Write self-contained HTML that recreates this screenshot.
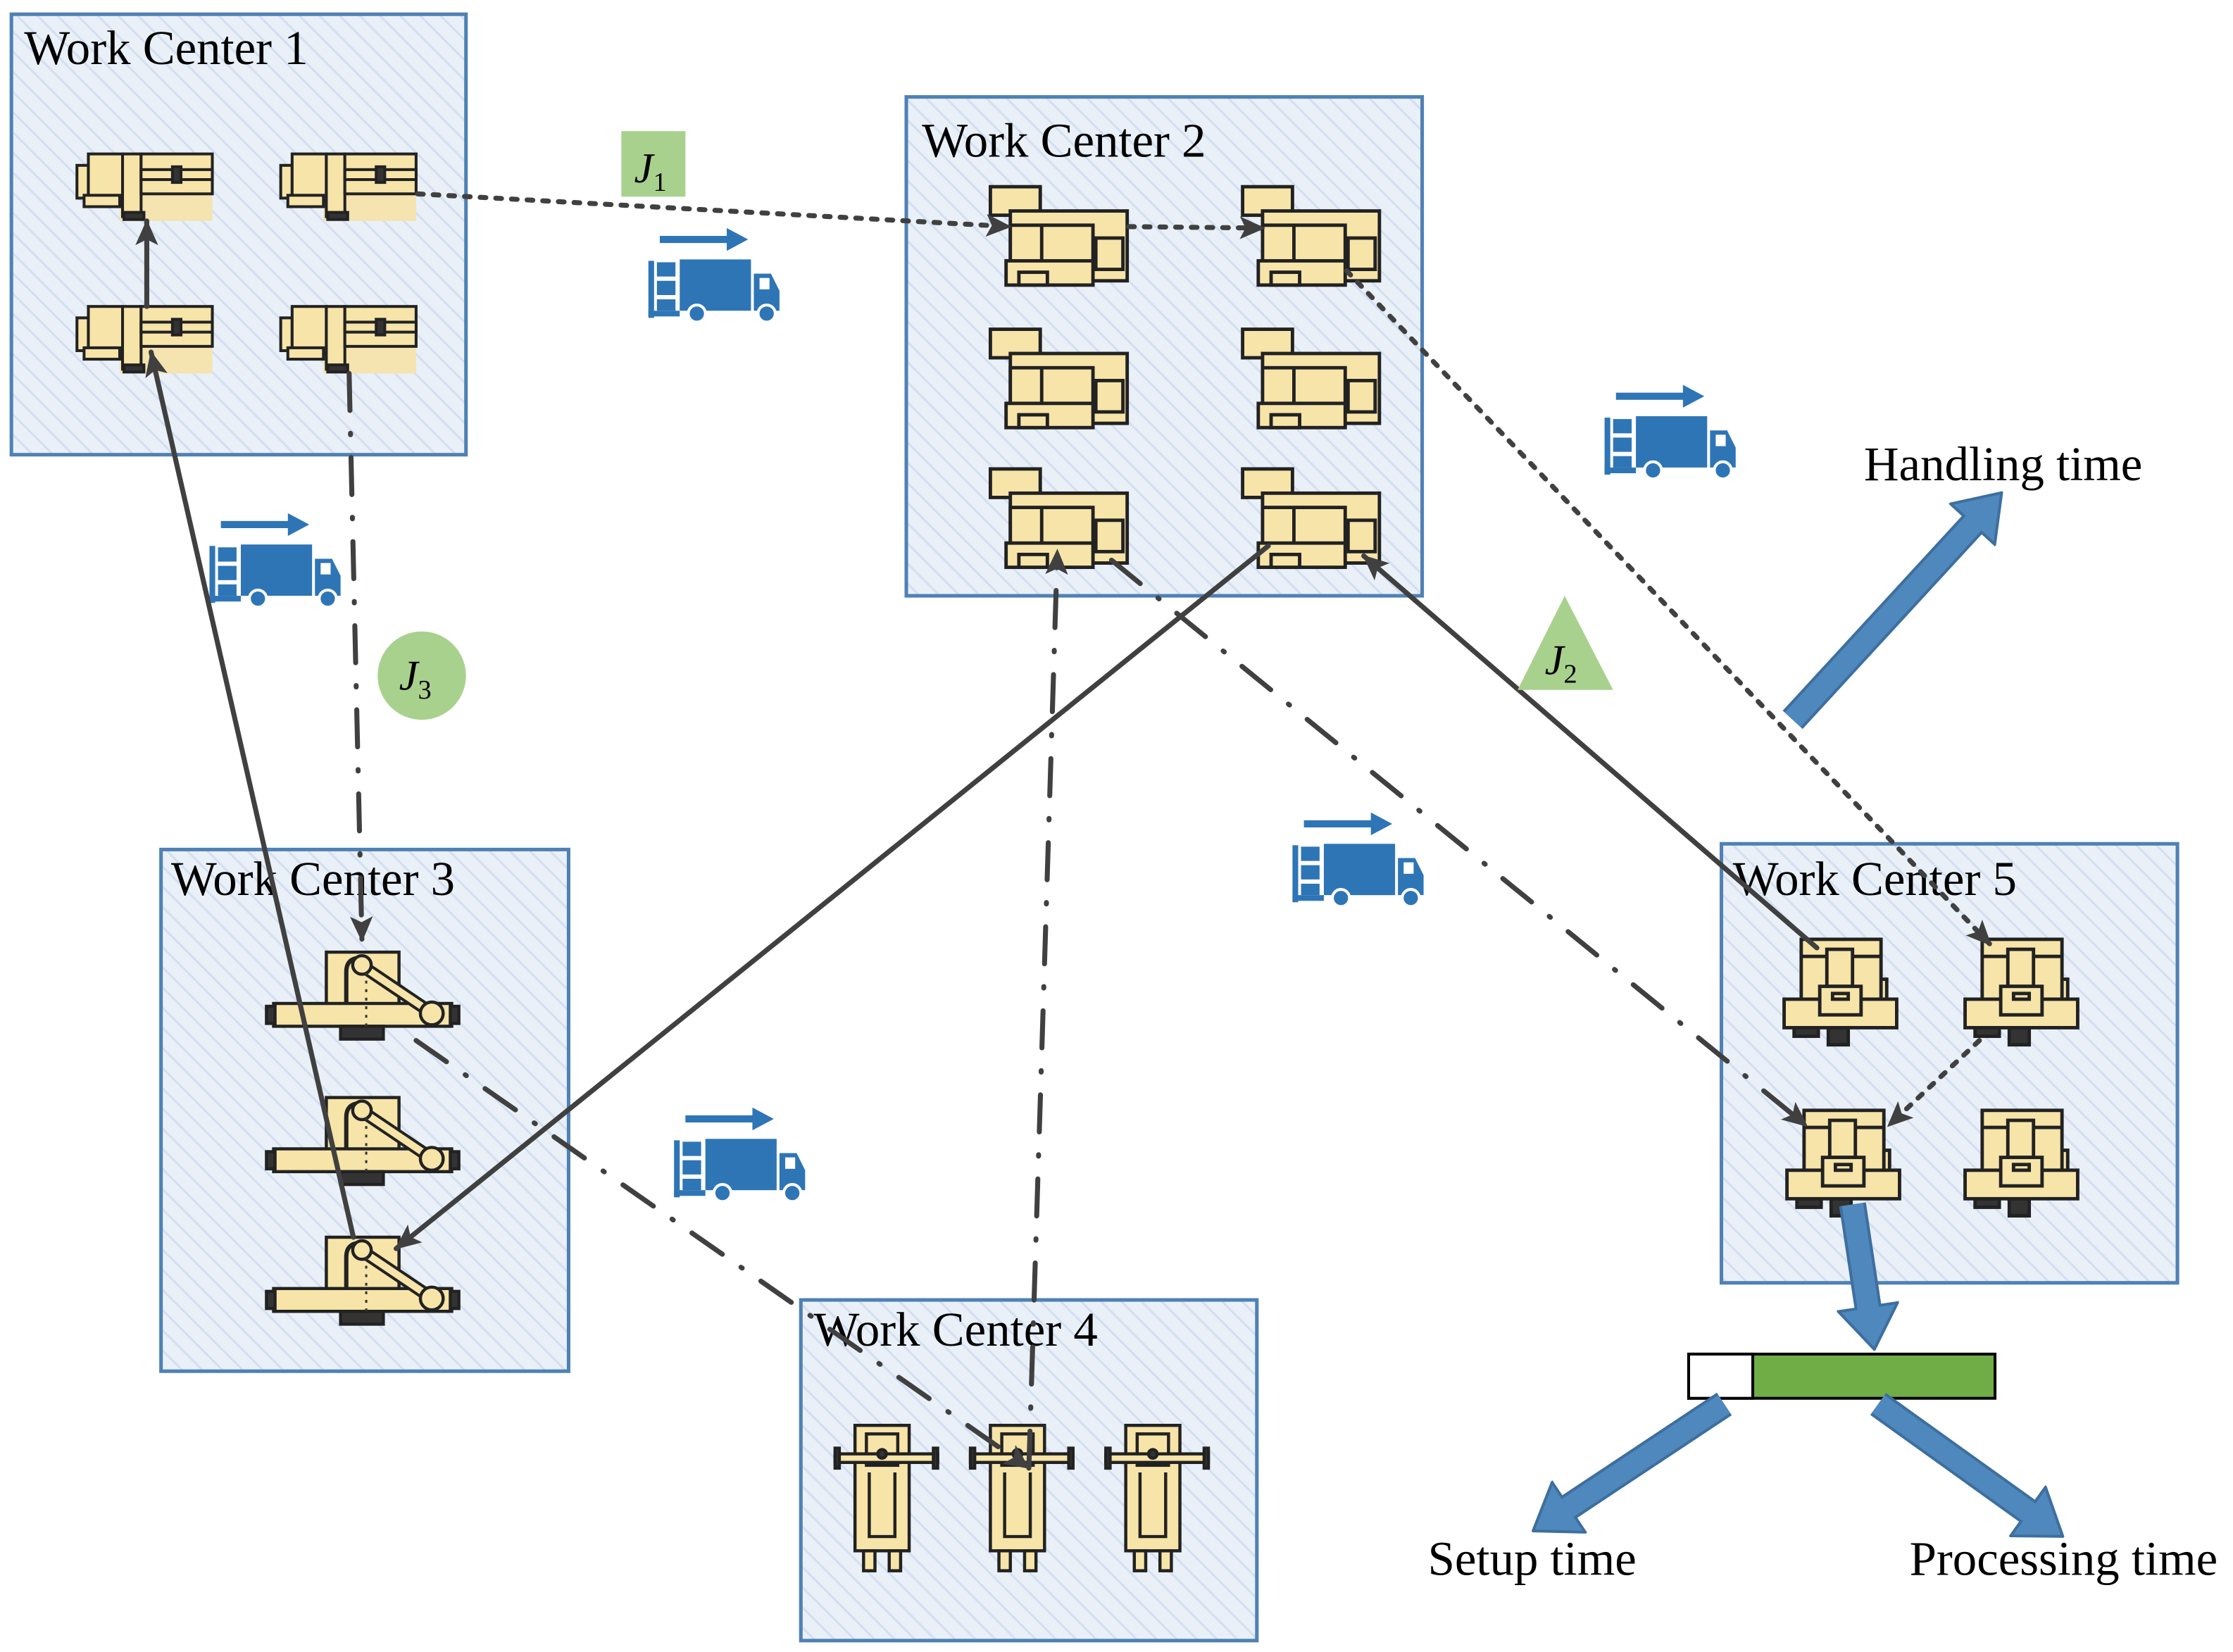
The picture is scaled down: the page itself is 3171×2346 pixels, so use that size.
<!DOCTYPE html>
<html><head><meta charset="utf-8"><style>
html,body{margin:0;padding:0;background:#fff;}
svg{display:block;}
text{font-family:"Liberation Serif",serif;fill:#000;}
</style></head><body>
<svg width="3171" height="2346" viewBox="0 0 1567 1159" preserveAspectRatio="none" xmlns="http://www.w3.org/2000/svg">
<defs>
<pattern id="hatch" patternUnits="userSpaceOnUse" width="10" height="10" patternTransform="rotate(-45)">
<rect width="10" height="10" fill="#eaf0f8"/>
<line x1="0" y1="0" x2="0" y2="10" stroke="#d3dff0" stroke-width="3"/>
</pattern>
<marker id="ah" markerUnits="userSpaceOnUse" markerWidth="18" markerHeight="16" viewBox="0 0 18 16" refX="17" refY="8" orient="auto">
<path d="M0,0 L18,8 L0,16 L4,8 z" fill="#404040"/>
</marker>
<marker id="bh" markerUnits="userSpaceOnUse" markerWidth="32" markerHeight="44" viewBox="-1 -1 32 44" refX="1" refY="21" orient="auto">
<path d="M0,0 L30,21 L0,42 z" fill="#4f88bd" stroke="#3d6f9f" stroke-width="2"/>
</marker>
<g id="mA" stroke="#222" stroke-width="2" fill="#f7e4a8">
<rect x="30" y="29" width="65" height="18" fill="#f5e3b0" stroke="none"/>
<rect x="0" y="8" width="8" height="23"/>
<rect x="8" y="0" width="24" height="33"/>
<rect x="5" y="29" width="25" height="8"/>
<rect x="32" y="0" width="13" height="44"/>
<rect x="45" y="0" width="50" height="28"/>
<rect x="45" y="11" width="50" height="7" fill="#f7e4a8"/>
<rect x="67" y="9" width="6" height="11" fill="#333"/>
<rect x="33" y="41" width="14" height="5" fill="#333"/>
</g>
<g id="mB" stroke="#222" stroke-width="2.4" fill="#f7e4a8">
<rect x="0" y="0" width="35" height="20"/>
<rect x="14" y="17" width="82" height="49"/>
<rect x="14" y="27" width="58" height="29"/>
<line x1="36" y1="27" x2="36" y2="56"/>
<rect x="74" y="36" width="19" height="22"/>
<rect x="11" y="52" width="61" height="17"/>
<rect x="20" y="60" width="20" height="9"/>
</g>
<g id="mC" stroke="#222" stroke-width="2.2" fill="#f7e4a8">
<rect x="42" y="0" width="51" height="39"/>
<rect x="5" y="36" width="125" height="16"/>
<rect x="0" y="38" width="6" height="12" fill="#333"/>
<rect x="129" y="38" width="6" height="12" fill="#333"/>
<rect x="52" y="52" width="30" height="9" fill="#333"/>
<path d="M56,36 L56,14 Q56,4 66,4" fill="none" stroke-width="3"/>
<line x1="66" y1="9" x2="115" y2="42" stroke-width="9" stroke="#222"/>
<line x1="66" y1="9" x2="115" y2="42" stroke-width="5" stroke="#f7e4a8"/>
<circle cx="67" cy="9" r="6.5"/>
<circle cx="116" cy="43" r="8"/>
<line x1="70" y1="14" x2="70" y2="60" stroke="#333" stroke-width="1.5" stroke-dasharray="2 4"/>
</g>
<g id="mD" stroke="#222" stroke-width="2.2" fill="#f7e4a8">
<rect x="14" y="2" width="38" height="88"/>
<rect x="22" y="8" width="22" height="22"/>
<rect x="0" y="22" width="72" height="6" fill="#f7e4a8"/>
<rect x="0" y="18" width="3" height="14" fill="#333"/>
<rect x="69" y="18" width="3" height="14" fill="#333"/>
<path d="M24,35 L24,80 L42,80 L42,35" fill="none"/>
<rect x="20" y="90" width="8" height="14"/>
<rect x="38" y="90" width="8" height="14"/>
<circle cx="33" cy="22" r="3" fill="#333"/>
</g>
<g id="mE" stroke="#222" stroke-width="2.4" fill="#f7e4a8">
<rect x="7" y="62" width="17" height="6" fill="#333"/>
<rect x="31" y="62" width="14" height="12" fill="#333"/>
<rect x="66" y="28" width="6" height="15"/>
<rect x="12" y="0" width="56" height="44"/>
<line x1="12" y1="12" x2="68" y2="12"/>
<rect x="30" y="7" width="18" height="26"/>
<rect x="0" y="42" width="79" height="20"/>
<rect x="25" y="33" width="29" height="20"/>
<rect x="34" y="38" width="11" height="4" fill="#f7e4a8"/>
</g>
<g id="truck" fill="#2e75b6">
<line x1="8" y1="10" x2="58" y2="10" stroke="#2e75b6" stroke-width="5"/>
<path d="M55,2 L70,10 L55,18 z"/>
<rect x="0" y="25" width="4" height="40"/>
<rect x="0" y="60" width="22" height="4"/>
<rect x="6" y="26" width="13" height="10"/>
<rect x="6" y="39" width="13" height="10"/>
<rect x="6" y="52" width="13" height="8"/>
<rect x="22" y="24" width="50" height="36"/>
<path d="M74,34 L86,34 L92,46 L92,60 L74,60 z"/>
<rect x="78" y="37" width="7" height="8" fill="#fff"/>
<circle cx="34" cy="62" r="6" stroke="#fff" stroke-width="2"/>
<circle cx="83" cy="62" r="6" stroke="#fff" stroke-width="2"/>
</g>
</defs>

<rect x="8" y="10" width="319" height="309" fill="url(#hatch)" stroke="#4f81b5" stroke-width="2.5"/>
<rect x="636" y="68" width="362" height="350" fill="url(#hatch)" stroke="#4f81b5" stroke-width="2.5"/>
<rect x="113" y="596" width="286" height="366" fill="url(#hatch)" stroke="#4f81b5" stroke-width="2.5"/>
<rect x="562" y="912" width="320" height="239" fill="url(#hatch)" stroke="#4f81b5" stroke-width="2.5"/>
<rect x="1208" y="592" width="320" height="308" fill="url(#hatch)" stroke="#4f81b5" stroke-width="2.5"/>

<text x="17" y="45" font-size="34">Work Center 1</text>
<text x="647" y="110" font-size="34">Work Center 2</text>
<text x="120" y="628" font-size="34">Work Center 3</text>
<text x="571" y="944" font-size="34">Work Center 4</text>
<text x="1216" y="628" font-size="34">Work Center 5</text>

<use href="#mA" x="54" y="108"/><use href="#mA" x="197" y="108"/>
<use href="#mA" x="54" y="215"/><use href="#mA" x="197" y="215"/>
<use href="#mB" x="695" y="131"/><use href="#mB" x="872" y="131"/>
<use href="#mB" x="695" y="231"/><use href="#mB" x="872" y="231"/>
<use href="#mB" x="695" y="329"/><use href="#mB" x="872" y="329"/>
<use href="#mC" x="187" y="668"/><use href="#mC" x="187" y="770"/><use href="#mC" x="187" y="868"/>
<use href="#mD" x="586" y="998"/><use href="#mD" x="681" y="998"/><use href="#mD" x="776" y="998"/>
<use href="#mE" x="1252" y="659"/><use href="#mE" x="1379" y="659"/>
<use href="#mE" x="1254" y="779"/><use href="#mE" x="1379" y="779"/>

<use href="#truck" x="455" y="158"/>
<use href="#truck" x="147" y="358"/>
<use href="#truck" x="1126" y="268"/>
<use href="#truck" x="907" y="568"/>
<use href="#truck" x="473" y="775"/>

<g fill="none" stroke="#404040" stroke-width="3.5" stroke-linecap="round">
<line x1="103" y1="215" x2="103" y2="155" marker-end="url(#ah)"/>
<line x1="248" y1="868" x2="106" y2="247" marker-end="url(#ah)"/>
<line x1="890" y1="383" x2="278" y2="876" marker-end="url(#ah)"/>
<line x1="1275" y1="665" x2="957" y2="390" marker-end="url(#ah)"/>
<g stroke-dasharray="4 7">
<line x1="293" y1="136" x2="709" y2="159" marker-end="url(#ah)"/>
<line x1="792" y1="159" x2="887" y2="160" marker-end="url(#ah)"/>
<line x1="945" y1="190" x2="1397" y2="663" marker-end="url(#ah)"/>
<line x1="1389" y1="730" x2="1325" y2="790" marker-end="url(#ah)"/>
</g>
<g stroke-dasharray="26 16 1 16">
<line x1="245" y1="262" x2="254" y2="660" marker-end="url(#ah)"/>
<line x1="722" y1="1030" x2="742" y2="386" marker-end="url(#ah)"/>
<line x1="292" y1="730" x2="722" y2="1030" marker-end="url(#ah)"/>
<line x1="780" y1="393" x2="1268" y2="790" marker-end="url(#ah)"/>
</g>
</g>

<rect x="436" y="92" width="45" height="46" fill="#a9d18e"/>
<text x="445" y="128" font-size="30" font-style="italic">J<tspan font-size="19" dy="6" font-style="normal">1</tspan></text>
<circle cx="296" cy="474" r="31" fill="#a9d18e"/>
<text x="280" y="484" font-size="30" font-style="italic">J<tspan font-size="19" dy="6" font-style="normal">3</tspan></text>
<path d="M1098,418 L1132,484 L1065,484 z" fill="#a9d18e"/>
<text x="1084" y="473" font-size="30" font-style="italic">J<tspan font-size="19" dy="6" font-style="normal">2</tspan></text>

<g stroke-linecap="butt">
<line x1="1258" y1="505" x2="1385" y2="367" stroke="#3d6f9f" stroke-width="19" marker-end="url(#bh)"/>
<line x1="1258" y1="505" x2="1385" y2="367" stroke="#4f88bd" stroke-width="15"/>
<line x1="1300" y1="845" x2="1311" y2="918" stroke="#3d6f9f" stroke-width="19" marker-end="url(#bh)"/>
<line x1="1300" y1="845" x2="1311" y2="918" stroke="#4f88bd" stroke-width="15"/>
</g>
<rect x="1185" y="950" width="215" height="31" fill="#70ad47" stroke="#000" stroke-width="2"/>
<rect x="1185" y="950" width="45" height="31" fill="#fff" stroke="#000" stroke-width="2"/>
<g stroke-linecap="butt">
<line x1="1210" y1="985" x2="1100" y2="1058" stroke="#3d6f9f" stroke-width="19" marker-end="url(#bh)"/>
<line x1="1210" y1="985" x2="1100" y2="1058" stroke="#4f88bd" stroke-width="15"/>
<line x1="1318" y1="985" x2="1424" y2="1061" stroke="#3d6f9f" stroke-width="19" marker-end="url(#bh)"/>
<line x1="1318" y1="985" x2="1424" y2="1061" stroke="#4f88bd" stroke-width="15"/>
</g>

<text x="1308" y="337" font-size="34">Handling time</text>
<text x="1002" y="1105" font-size="34">Setup time</text>
<text x="1340" y="1105" font-size="34">Processing time</text>
</svg>
</body></html>
